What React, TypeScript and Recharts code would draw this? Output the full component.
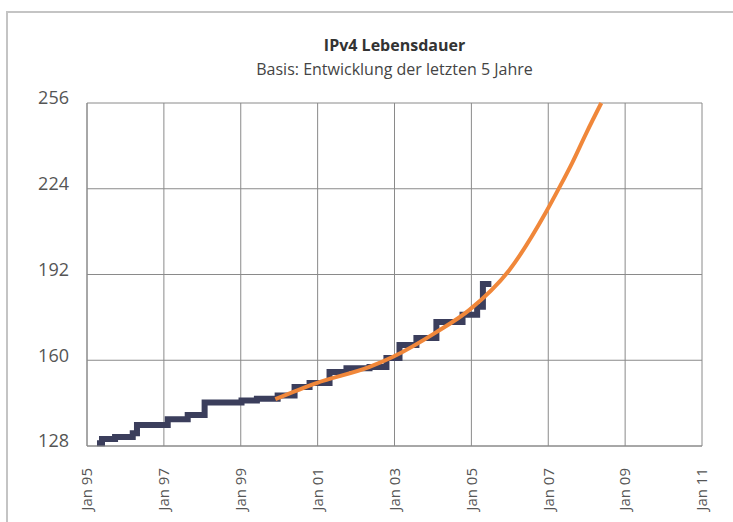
import { LineChart, Line, XAxis, YAxis, CartesianGrid } from 'recharts';

// historical allocation steps (year as decimal, value in /8 blocks)
const stepYears = [
  1995.26, 1995.39, 1995.73, 1996.19, 1996.3, 1997.1, 1997.62, 1998.06, 1999.02, 1999.42,
  1999.96, 2000.4, 2000.79, 2001.31, 2001.75, 2002.35, 2002.79, 2003.13, 2003.57, 2004.09,
  2004.77, 2005.15, 2005.3, 2005.52,
];
const stepValues = [
  129, 130.6, 131.4, 132.8, 135.8, 138, 139.6, 144.2, 145, 145.6,
  146.8, 150, 151.5, 155.6, 157, 157.5, 160.8, 165.7, 168.3, 174.3,
  177, 180, 188.5, 188.5,
];

// projection based on the last five years
const trendYears = [1999.9, 2000.97, 2002.35, 2002.95, 2004.09, 2004.95, 2005.99, 2006.95, 2007.29, 2007.62, 2007.99, 2008.38];
const trendValues = [145.5, 151.5, 157.5, 161.2, 170.5, 178.8, 193.7, 215.5, 224.5, 233.6, 244.8, 256];

const xTicks = [1995, 1997, 1999, 2001, 2003, 2005, 2007, 2009, 2011];
const yTicks = [128, 160, 192, 224, 256];

const stepData = stepYears.map((year, i) => ({ year, value: stepValues[i] }));
const trendData = trendYears.map((year, i) => ({ year, value: trendValues[i] }));

const FONT = '"Open Sans", "Noto Sans", sans-serif';

function XTick({ x, y, payload }: any) {
  const label = `Jan ${String(payload.value % 100).padStart(2, '0')}`;
  return (
    <text
      x={x}
      y={y + 14}
      transform={`rotate(-90, ${x}, ${y + 14})`}
      textAnchor="end"
      dy="0.35em"
      fill="#555"
      fontSize={15}
      fontFamily={FONT}
    >
      {label}
    </text>
  );
}

export default function App() {
  return (
    <div style={{ position: 'relative', width: 733, height: 522, background: '#fff', overflow: 'hidden' }}>
      <style>{'body{margin:0}'}</style>
      <div
        style={{
          position: 'absolute',
          left: 6,
          top: 11,
          width: 760,
          height: 600,
          borderTop: '2px solid #c4c4c4',
          borderLeft: '2px solid #c4c4c4',
        }}
      />
      <div
        style={{
          position: 'absolute',
          left: 87,
          width: 615,
          top: 33,
          textAlign: 'center',
          fontFamily: FONT,
          color: '#333',
          lineHeight: '24px',
        }}
      >
        <div style={{ fontWeight: 700, fontSize: 16 }}>IPv4 Lebensdauer</div>
        <div style={{ fontSize: 16, color: '#444' }}>Basis: Entwicklung der letzten 5 Jahre</div>
      </div>
      <div style={{ position: 'absolute', left: 0, top: 0 }}>
        <LineChart width={733} height={522} margin={{ top: 103, right: 31, left: 27, bottom: 6 }}>
          <CartesianGrid stroke="#8a8a8a" strokeWidth={1} />
          <XAxis
            type="number"
            dataKey="year"
            domain={[1995, 2011]}
            ticks={xTicks}
            interval={0}
            height={70}
            tickLine={false}
            axisLine={{ stroke: '#8a8a8a' }}
            tick={<XTick />}
          />
          <YAxis
            type="number"
            dataKey="value"
            domain={[128, 256]}
            ticks={yTicks}
            interval={0}
            width={60}
            tickLine={false}
            axisLine={{ stroke: '#8a8a8a' }}
            tick={{ fill: '#555', fontSize: 18, fontFamily: FONT, dy: -5 }}
            tickMargin={12}
          />
          <Line
            data={stepData}
            dataKey="value"
            type="stepAfter"
            stroke="#3b3e5c"
            strokeWidth={6}
            dot={false}
            isAnimationActive={false}
          />
          <Line
            data={trendData}
            dataKey="value"
            type="monotone"
            stroke="#f0873a"
            strokeWidth={4}
            dot={false}
            isAnimationActive={false}
          />
        </LineChart>
      </div>
    </div>
  );
}
